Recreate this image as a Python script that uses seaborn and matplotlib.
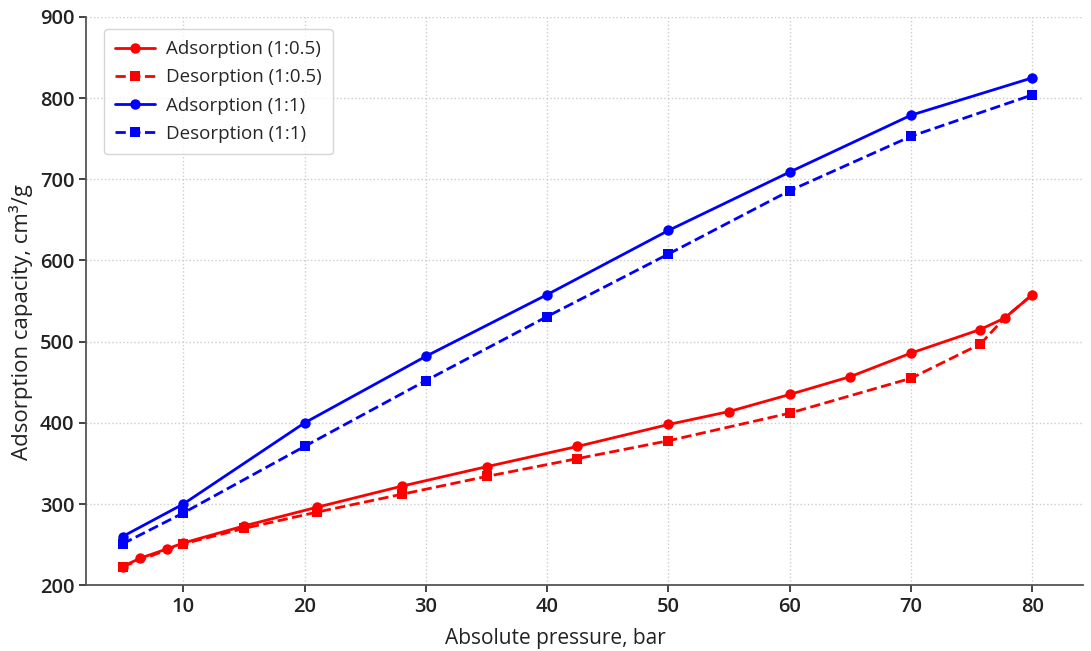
import numpy as np
import pandas as pd
import matplotlib
matplotlib.use("Agg")
import matplotlib.pyplot as plt
import seaborn as sns

sns.set_style("ticks")
plt.rcParams['font.family'] = ['Open Sans', 'DejaVu Sans']

# 1:0.5 sample
p_ads_05 = [5, 6.4, 8.7, 10, 15, 21, 28, 35, 42.5, 50, 55, 60, 65, 70, 75.7, 77.7, 80]
q_ads_05 = [223, 233, 245, 252, 273, 296, 322, 346, 371, 398, 414, 435, 457, 486, 515, 529, 558]
p_des_05 = [5, 10, 15, 21, 28, 35, 42.5, 50, 60, 70, 75.7]
q_des_05 = [223, 251, 270, 290, 312, 334, 356, 378, 412, 455, 497]
# dashed link from the last desorption point back to the adsorption branch
p_link_05 = [75.7, 77.7, 80]
q_link_05 = [497, 529, 558]

# 1:1 sample
p_11 = [5, 10, 20, 30, 40, 50, 60, 70, 80]
q_ads_11 = [260, 300, 400, 482, 558, 637, 709, 779, 825]
q_des_11 = [251, 289, 371, 452, 531, 608, 686, 753, 804]

fig, ax = plt.subplots(figsize=(10.91, 6.51), dpi=100)

lw = 2.0
ms = 7.5
sns.lineplot(x=p_ads_05, y=q_ads_05, color='red', marker='o', markersize=ms,
             markeredgewidth=0, linewidth=lw, label='Adsorption (1:0.5)', ax=ax)
sns.lineplot(x=p_des_05, y=q_des_05, color='red', marker='s', markersize=ms,
             markeredgewidth=0, linewidth=lw, linestyle='--', label='Desorption (1:0.5)', ax=ax)
sns.lineplot(x=p_link_05, y=q_link_05, color='red', linewidth=lw, linestyle='--',
             legend=False, ax=ax)
sns.lineplot(x=p_11, y=q_ads_11, color='blue', marker='o', markersize=ms,
             markeredgewidth=0, linewidth=lw, label='Adsorption (1:1)', ax=ax)
sns.lineplot(x=p_11, y=q_des_11, color='blue', marker='s', markersize=ms,
             markeredgewidth=0, linewidth=lw, linestyle='--', label='Desorption (1:1)', ax=ax)

ax.set_xlim(2, 84.2)
ax.set_ylim(200, 900)
ax.set_xticks(range(10, 81, 10))
ax.set_yticks(range(200, 901, 100))
ax.grid(True, linestyle=':', color='#cccccc', linewidth=1.0)
sns.despine(ax=ax)
ax.spines['left'].set_color('#555555')
ax.spines['bottom'].set_color('#555555')
ax.spines['left'].set_linewidth(1.3)
ax.spines['bottom'].set_linewidth(1.3)
ax.tick_params(colors='#222222', labelsize=14.5, length=5, width=1.2)
for lab in ax.get_xticklabels() + ax.get_yticklabels():
    lab.set_fontweight('semibold')

ax.set_xlabel('Absolute pressure, bar', fontsize=15, color='#222222')
ax.set_ylabel('Adsorption capacity, cm³/g', fontsize=16, color='#222222')
ax.xaxis.set_label_coords(0.471, -0.075)
ax.yaxis.set_label_coords(-0.053, 0.463)

leg = ax.legend(loc='upper left', fontsize=13.5, frameon=True, handlelength=2.1,
                handletextpad=0.6, borderpad=0.6, labelspacing=0.55,
                borderaxespad=0, bbox_to_anchor=(0.018, 0.979))
leg.get_frame().set_edgecolor('#cccccc')

plt.subplots_adjust(left=0.079, right=0.993, top=0.974, bottom=0.101)
plt.savefig('out.png', dpi=100)
